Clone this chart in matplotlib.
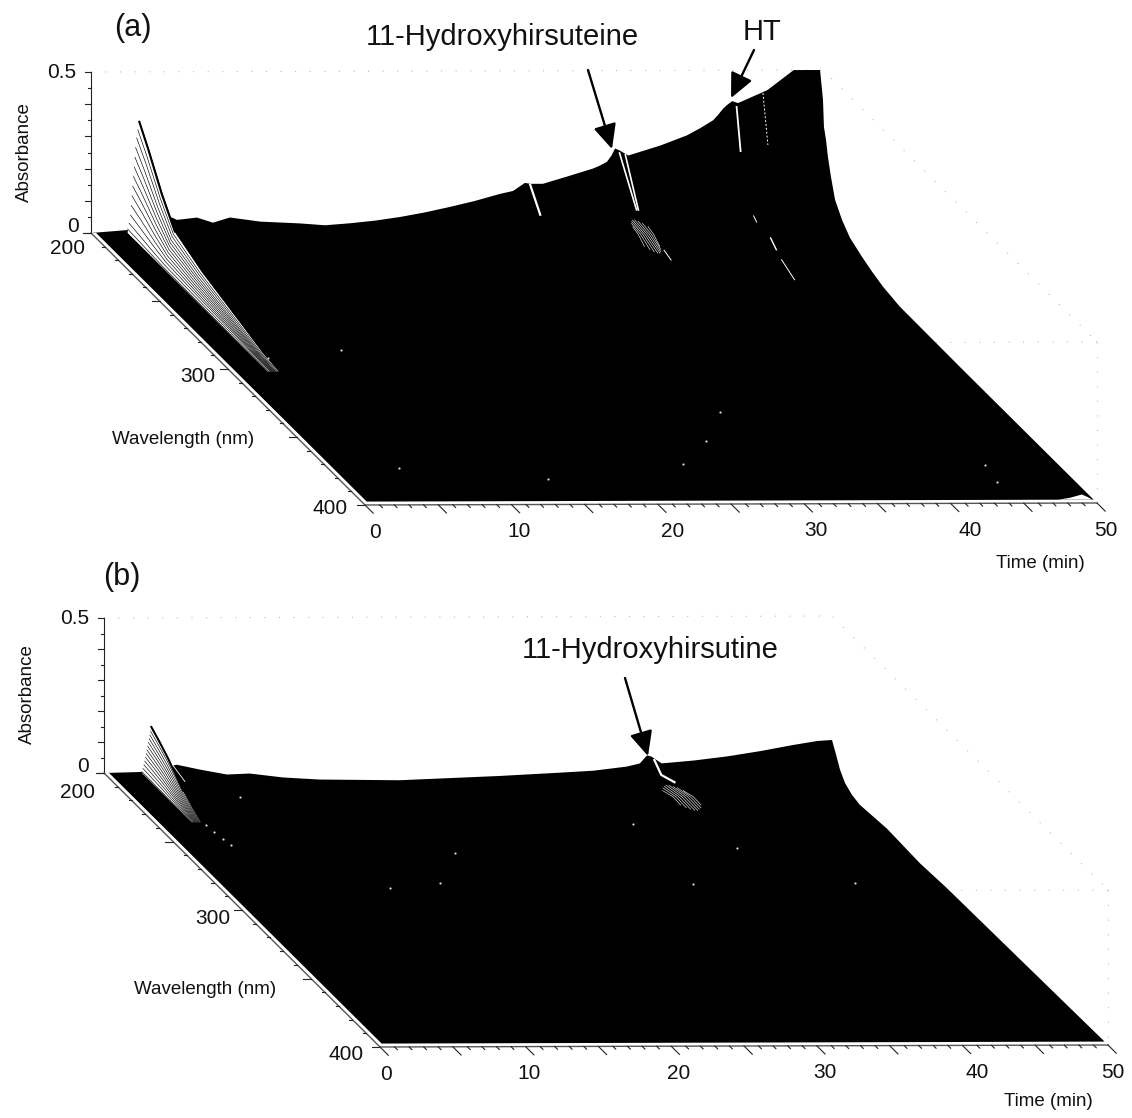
import numpy as np
import matplotlib
matplotlib.use('Agg')
import matplotlib.pyplot as plt

plt.rcParams['font.family'] = ['Liberation Sans', 'DejaVu Sans']

# ---- panel (a) values ----
a_ridge_time = [0, 2.53, 5.26, 5.87, 7.24, 8.33, 9.49, 11.54, 14.28, 15.98, 17.69, 19.4, 21.1, 22.8, 24.52,
                26.2, 27.94, 28.83, 29.64, 29.99, 30.87, 32.5, 34.3, 34.76, 35.25, 35.55, 35.8, 36.1, 36.7,
                38.9, 40.7, 41.6, 42.5, 42.84, 43.2, 43.5, 43.8, 44.2, 46.2, 48.0, 49.8]
a_ridge_abs = [0, .009, .053, .040, .047, .031, .047, .034, .028, .022, .028, .036, .047, .061, .078,
               .096, .118, .127, .152, .149, .149, .171, .196, .205, .217, .236, .258, .252, .236,
               .267, .298, .320, .345, .362, .382, .394, .404, .398, .438, .5, .5]
a_edge_wl = [200, 200.7, 202.2, 203.6, 205.8, 208.8, 213.9, 219.7, 228.5, 235.8, 243.8, 256, 300, 397.5]
a_edge_abs = [.407, .326, .292, .245, .193, .134, .093, .062, .04, .025, .012, .002, 0, 0]
a_fan_time = [2.5, 2.6, 2.7, 2.75, 2.8, 2.85, 2.9, 2.95, 3.0, 3.05, 3.12, 3.2, 3.3, 3.36]
a_fan_peak = [.012, .03, .055, .085, .115, .145, .175, .205, .235, .265, .295, .32, .345, .34]
a_fan_wl = [200, 206.6, 216.4, 225.9, 245.6, 274.8, 290, 302]
a_fan_rel = [1, .83, .55, .33, .21, .09, .025, 0]
a_hump_time = [47.6, 48.4, 49.2, 49.6, 49.9]
a_hump_abs = [0, .006, .016, .008, 0]
a_cluster_time = [35.6, 35.75, 35.9, 36.05, 36.2, 36.35, 36.5, 36.65]
a_cluster_wl = [210, 219, 228.5]
a_cluster_abs = [.078, .072, .053]
a_cluster_trim = [5, 2.5, 1, 0, 0, 1, 2.5, 5]
# time, wavelengths, absorbances, line width
a_streaks = [(30.0, [200, 207.3], [.146, .084], 1.6),
             (36.1, [200, 212.4], [.244, .12], 1.2),
             (36.5, [200, 209.5], [.238, .107], 1.2),
             (36.0, [233.6, 238.7], [.084, .075], .7),
             (44.1, [200, 202.9], [.386, .261], 1.3),
             (44.1, [212.4, 214.6], [.10, .09], .7),
             (44.1, [224.8, 229], [.084, .065], 1.0),
             (44.1, [232.8, 242.3], [.05, .028], .7)]
a_dash_time = 45.9
a_dash_wl = [200, 203.6]
a_dash_abs = [.429, .283]
a_dots_time = [9.0, 4.9, 3.5, 30.6, 27.6, 24.5, 45, 44.6, 14.2]
a_dots_wl = [286, 372.8, 291.9, 332.4, 353.7, 370.6, 372, 384.6, 381.6]

# ---- panel (b) values ----
b_ridge_time = [0, 2.61, 5.0, 6.6, 8.45, 10.0, 12.3, 14.8, 20.3, 27.2, 31.3, 33.6, 35.9, 36.8,
                37.3, 37.6, 38.3, 40.5, 42.8, 45.1, 47.3, 49.0, 50.0]
b_ridge_abs = [0, .003, .026, .01, -.006, -.003, -.016, -.023, -.026, -.013, -.003, .003, .016,
               .026, .052, .048, .026, .035, .048, .065, .084, .097, .1]
b_edge_wl = [203, 205.8, 209.4, 214.5, 220, 239.9, 263.8, 283, 397.5]
b_edge_abs = [.065, .03, .003, -.013, -.02, -.01, -.016, -.01, 0]
b_fan_time = [2.6, 2.68, 2.74, 2.8, 2.85, 2.9, 2.95, 3.0, 3.05, 3.1, 3.15, 3.2, 3.25]
b_fan_peak = [.004, .014, .026, .038, .05, .062, .074, .086, .098, .11, .122, .134, .148]
b_fan_wl = [200, 206, 212, 223, 230, 236]
b_fan_rel = [1, .85, .68, .30, .12, 0]
b_cluster_time = [36.6, 36.8, 37.0, 37.2, 37.4, 37.6, 37.8, 38.0]
b_cluster_wl = [214.7, 226, 235.7]
b_cluster_abs = [.021, .034, .032]
b_cluster_trim = [4, 2, 1, 0, 0, 1, 2, 4]
b_streaks = [(37.8, [200, 205, 214.6], [.037, .011, .03], 1.6),
             (4.7, [200, 209], [.026, .012], .6)]
b_dots_time = [38.2, 32.7, 32.7, 43.8, 18.5, 15.4, 11.7, 7.7, 3.4, 3.5, 3.6, 3.7]
b_dots_wl = [256, 238, 281.8, 281.8, 259, 281, 284, 217.5, 238, 243, 248, 253]

# axis tick values
abs_major = [0, .1, .2, .3, .4, .5]
abs_minor = [.05, .15, .25, .35, .45]
abs_labels = ['0', '0.5']
wl_major = [200, 250, 300, 350, 400]
wl_minor = [210, 220, 230, 240, 260, 270, 280, 290, 310, 320, 330, 340, 360, 370, 380, 390]
wl_labels = [200, 300, 400]
time_major = [0, 5, 10, 15, 20, 25, 30, 35, 40, 45, 50]
time_labels = [0, 10, 20, 30, 40, 50]

# projection of time / wavelength / absorbance on the page, in pixels
geom_a = dict(x0=91, sx=14.64, lx=1.37, y0=233, dt=-.04, ly=1.36, ay=322)
geom_b = dict(x0=104, sx=14.56, lx=1.38, y0=773, dt=-.04, ly=1.37, ay=310)


def project(g, t, wl, a=0):
    t = np.asarray(t, dtype=float)
    wl = np.asarray(wl, dtype=float)
    a = np.asarray(a, dtype=float)
    x = g['x0'] + g['sx'] * t + g['lx'] * (wl - 200)
    y = g['y0'] + g['dt'] * t + g['ly'] * (wl - 200) - g['ay'] * a
    return x, y


def draw_box(ax, g):
    faint = dict(color='#a8a8a8', lw=.7, ls=(0, (1, 14)), zorder=1)
    x, y = project(g, [0, 50, 50], [200, 200, 400], [.5, .5, .5])
    ax.plot(x, y, **faint)
    x, y = project(g, [50, 30], [400, 400], [.5, .5])
    ax.plot(x, y, **faint)
    x, y = project(g, [50, 50], [400, 400], [.5, 0])
    ax.plot(x, y, **faint)


def draw_surface(ax, g, ridge_t, ridge_a, edge_wl, edge_a):
    xr, yr = project(g, ridge_t, np.full(len(ridge_t), 200.), ridge_a)
    xe, ye = project(g, np.full(len(edge_wl), 50.), edge_wl, edge_a)
    xf, yf = project(g, [.35, .35], [397.5, 200.])
    ax.fill(np.r_[xr, xe, xf], np.r_[yr, ye, yf], color='black', lw=0, zorder=2)


def draw_fan(ax, g, fan_t, fan_peak, fan_wl, fan_rel):
    rel = np.asarray(fan_rel)
    top = int(np.argmax(fan_peak))
    x0, y0 = project(g, np.full(len(fan_wl), fan_t[0]), fan_wl)
    x1, y1 = project(g, np.full(len(fan_wl), fan_t[top]), fan_wl, rel * fan_peak[top])
    ax.fill(np.r_[x0, x1[::-1]], np.r_[y0, y1[::-1]], color='white', lw=0, zorder=3)
    for t, peak in zip(fan_t, fan_peak):
        x, y = project(g, np.full(len(fan_wl), t), fan_wl, rel * peak)
        ax.plot(x, y, color='black', lw=.45, zorder=4)
    ax.plot(x1[:4], y1[:4], color='black', lw=1.5, zorder=4)


def draw_white_lines(ax, g, cluster_t, cluster_wl, cluster_a, trim, streaks, dots_t, dots_wl):
    for t, cut in zip(cluster_t, trim):
        wl = [cluster_wl[0] + cut, cluster_wl[1], cluster_wl[2] - cut]
        x, y = project(g, np.full(3, t), wl, cluster_a)
        ax.plot(x, y, color='#e8e8e8', lw=.45, zorder=5)
    for t, wl, a, lw in streaks:
        x, y = project(g, np.full(len(wl), t), wl, a)
        ax.plot(x, y, color='white', lw=lw, zorder=5)
    x, y = project(g, dots_t, dots_wl)
    ax.scatter(x, y, s=2.5, color='#dddddd', lw=0, zorder=5)


def draw_axes(ax, g, label_dx, label_dy, time_nudge):
    axis = dict(color='#222222', lw=.8, zorder=6)
    # absorbance axis
    x, y = project(g, [0, 0], [200, 200], [0, .5])
    ax.plot(x, y, **axis)
    for vals, n in ((abs_major, 6), (abs_minor, 3)):
        for v in vals:
            x, y = project(g, 0, 200, v)
            ax.plot([x - n, x], [y, y], **axis)
    # wavelength axis
    x, y = project(g, [0, 0], [200, 400])
    ax.plot(x, y, color='#555555', lw=1., zorder=6)
    for vals, n in ((wl_major, 8), (wl_minor, 3)):
        for v in vals:
            x, y = project(g, 0, v)
            ax.plot([x - n, x], [y, y], **axis)
    # time axis
    x, y = project(g, [0, 50], [400, 400])
    ax.plot(x, y, color='#555555', lw=1., zorder=6)
    for v in range(51):
        n = 6 if v in time_major else 2
        x, y = project(g, [v, v], [400, 400 + n])
        ax.plot(x, y, **axis)
    text = dict(fontsize=15, color='#111111', va='center')
    x, y = project(g, 0, 200, 0)
    ax.text(x - 6 - label_dx[0], y - 6, abs_labels[0], ha='right', **text)
    x, y = project(g, 0, 200, .5)
    ax.text(x - 15, y + 1, abs_labels[1], ha='right', **text)
    for wl, dx, dy in zip(wl_labels, label_dx, label_dy):
        x, y = project(g, 0, wl)
        ax.text(x - dx, y + dy, str(wl), ha='right', **text)
    for t, nudge in zip(time_labels, time_nudge):
        x, y = project(g, t, 400)
        ax.text(x + 9 + nudge, y + 27, str(t), ha='center', **text)


def arrow(ax, start, tip):
    ax.annotate('', xy=tip, xytext=start, zorder=7,
                arrowprops=dict(arrowstyle='-|>,head_length=1.5,head_width=.7', mutation_scale=10,
                                color='black', lw=1.7, shrinkA=0, shrinkB=0))


fig = plt.figure(figsize=(11.32, 11.18), dpi=100)
ax = fig.add_axes([0, 0, 1, 1])
ax.set_xlim(0, 1132)
ax.set_ylim(1118, 0)
ax.axis('off')

# panel (a)
draw_box(ax, geom_a)
draw_surface(ax, geom_a, a_ridge_time, a_ridge_abs, a_edge_wl, a_edge_abs)
draw_fan(ax, geom_a, a_fan_time, a_fan_peak, a_fan_wl, a_fan_rel)
draw_white_lines(ax, geom_a, a_cluster_time, a_cluster_wl, a_cluster_abs, a_cluster_trim, a_streaks,
                 a_dots_time, a_dots_wl)
x, y = project(geom_a, np.full(2, a_dash_time), a_dash_wl, a_dash_abs)
ax.plot(x, y, color='white', lw=.7, ls=(0, (2, 2)), zorder=5)
x, y = project(geom_a, a_hump_time, np.full(5, 397.5), a_hump_abs)
ax.fill(x, y, color='white', lw=0, zorder=5)
draw_axes(ax, geom_a, [6, 13, 17], [15, 8, 3], [1, -1, 6, 3, 11, 0])

# panel (b)
draw_box(ax, geom_b)
draw_surface(ax, geom_b, b_ridge_time, b_ridge_abs, b_edge_wl, b_edge_abs)
draw_fan(ax, geom_b, b_fan_time, b_fan_peak, b_fan_wl, b_fan_rel)
draw_white_lines(ax, geom_b, b_cluster_time, b_cluster_wl, b_cluster_abs, b_cluster_trim, b_streaks,
                 b_dots_time, b_dots_wl)
draw_axes(ax, geom_b, [9, 12, 16], [19, 8, 7], [-3, -6, -2, -1, 6, -4])

# labels
big = dict(fontsize=21, color='#111111', ha='center', va='center')
ax.text(133, 28, '(a)', **dict(big, fontsize=22))
ax.text(122, 577, '(b)', **dict(big, fontsize=22))
ax.text(502, 37, '11-Hydroxyhirsuteine', **big)
ax.text(762, 32, 'HT', **big)
ax.text(650, 650, '11-Hydroxyhirsutine', **big)

small = dict(fontsize=13.5, color='#111111', ha='center', va='center')
ax.text(24, 152, 'Absorbance', rotation=90, **small)
ax.text(27, 694, 'Absorbance', rotation=90, **small)
ax.text(183, 440, 'Wavelength (nm)', **small)
ax.text(205, 989, 'Wavelength (nm)', **small)
ax.text(1040, 563, 'Time (min)', **small)
ax.text(1048, 1102, 'Time (min)', **small)

arrow(ax, (588, 70), (612, 149))
arrow(ax, (754, 50), (731, 98))
arrow(ax, (625, 678), (648, 756))

fig.savefig('out.png', dpi=100, facecolor='white')
